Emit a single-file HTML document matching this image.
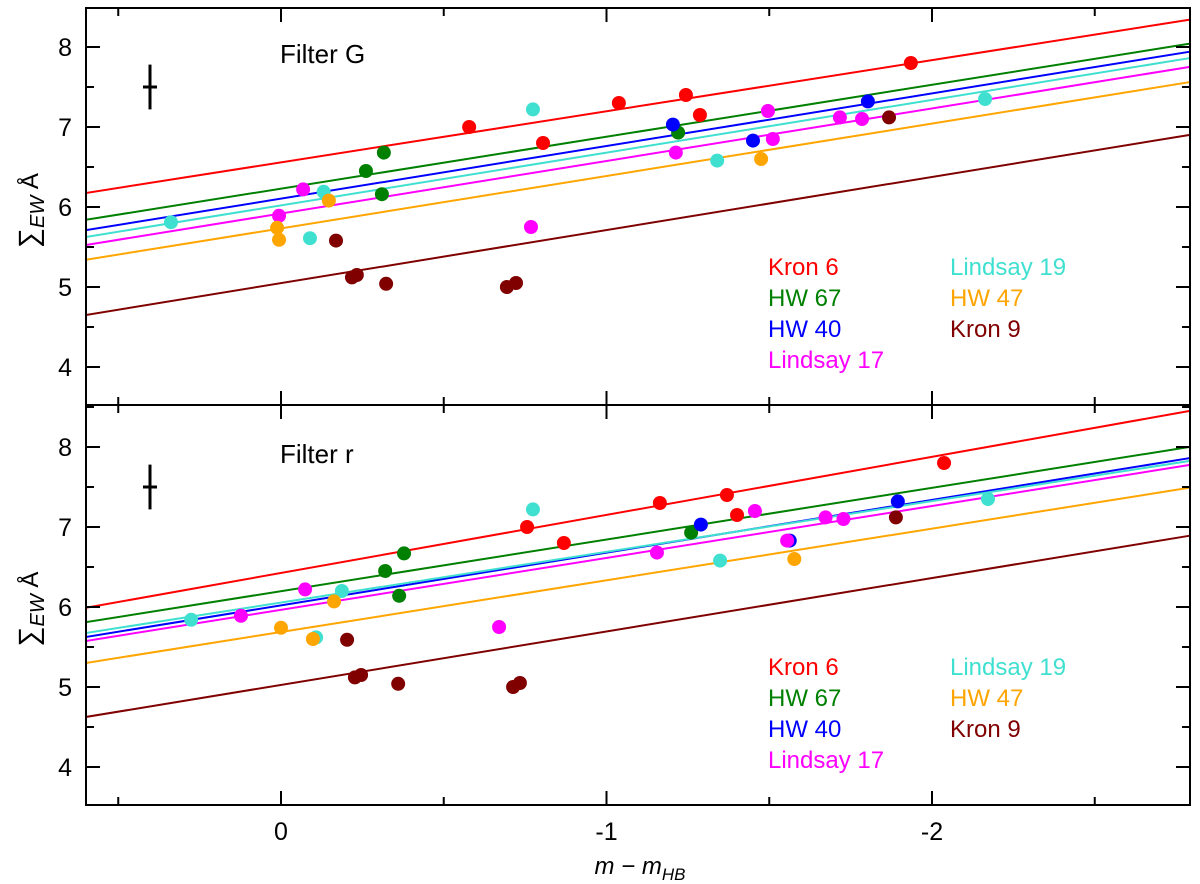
<!DOCTYPE html>
<html><head><meta charset="utf-8"><style>
body{margin:0;background:#fff;font-family:"Liberation Sans","DejaVu Sans",sans-serif}
svg{display:block}
</style></head><body>
<svg id="chart" width="1200" height="884" viewBox="0 0 1200 884" xmlns="http://www.w3.org/2000/svg"></svg>
<script>
const seriesNames=["Kron 6","HW 67","HW 40","Lindsay 17","Lindsay 19","HW 47","Kron 9"];
const seriesColors=["#ff0000","#008000","#0000ff","#ff00ff","#40e0d0","#ffa500","#800000"];
const xTicks=[0,-1,-2];
const yTicks=[4,5,6,7,8];
// top panel (Filter G) line endpoints: value at x=0.6 and x=-2.79
const gLineLeft=[6.175,5.84,5.71,5.525,5.625,5.34,4.65];
const gLineRight=[8.34,8.04,7.94,7.75,7.86,7.56,6.90];
const rLineLeft=[5.99,5.81,5.625,5.575,5.675,5.30,4.625];
const rLineRight=[8.45,8.0,7.86,7.775,7.825,7.49,6.89];
// points: x (m - mHB), y (EW)
const gX=[
 [-0.578,-1.038,-1.244,-1.287,-0.805,-1.935],
 [-0.316,-0.261,-0.31,-1.22],
 [-1.204,-1.45,-1.803],
 [-0.068,0.006,-0.768,-1.213,-1.496,-1.511,-1.717,-1.785],
 [0.338,-0.131,-0.089,-0.774,-1.34,-2.163],
 [0.012,0.006,-0.147,-1.475],
 [-0.169,-0.218,-0.233,-0.323,-0.694,-0.722,-1.868]];
const gY=[
 [7.0,7.3,7.4,7.15,6.8,7.8],
 [6.68,6.45,6.16,6.93],
 [7.03,6.83,7.32],
 [6.22,5.89,5.75,6.68,7.2,6.85,7.12,7.1],
 [5.81,6.19,5.61,7.22,6.58,7.35],
 [5.74,5.59,6.08,6.6],
 [5.58,5.12,5.15,5.04,5.0,5.05,7.12]];
const rX=[
 [-0.756,-1.164,-1.37,-1.401,-0.869,-2.037],
 [-0.32,-0.378,-0.363,-1.26],
 [-1.29,-1.563,-1.895],
 [-0.074,0.123,-0.67,-1.155,-1.456,-1.555,-1.673,-1.728],
 [0.276,-0.187,-0.108,-0.774,-1.349,-2.172],
 [0.0,-0.163,-0.098,-1.577],
 [-0.203,-0.227,-0.246,-0.36,-0.713,-0.734,-1.889]];
const rY=[
 [7.0,7.3,7.4,7.15,6.8,7.8],
 [6.45,6.67,6.14,6.93],
 [7.03,6.83,7.32],
 [6.22,5.89,5.75,6.68,7.2,6.83,7.12,7.1],
 [5.84,6.2,5.62,7.22,6.58,7.35],
 [5.74,6.07,5.6,6.6],
 [5.59,5.12,5.15,5.04,5.0,5.05,7.12]];

const NS="http://www.w3.org/2000/svg";
const svg=document.getElementById('chart');
const L=86,R=1190;
function xs(v){return 281-325.5*v;}
function mk(tag,attrs,parent){const e=document.createElementNS(NS,tag);for(const k in attrs)e.setAttribute(k,attrs[k]);(parent||svg).appendChild(e);return e;}
const XMIN=0.6,XMAX=-2.79;
const panels=[
 {top:8,bot:405,y8:47,title:"Filter G",ll:gLineLeft,lr:gLineRight,px:gX,py:gY,name:"filter-g"},
 {top:405,bot:805,y8:447,title:"Filter r",ll:rLineLeft,lr:rLineRight,px:rX,py:rY,name:"filter-r"}];
panels.forEach((p,pi)=>{
 const g=mk('g',{});
 
 
 const ys=v=>p.y8+(8-v)*80;
 const clip=mk('clipPath',{id:'c'+pi},g);mk('rect',{x:L,y:p.top,width:R-L,height:p.bot-p.top},clip);
 const plot=mk('g',{'clip-path':'url(#c'+pi+')'},g);
 // fit lines
 seriesNames.forEach((n,i)=>{
  const ln=mk('line',{x1:xs(XMIN),y1:ys(p.ll[i]),x2:xs(XMAX),y2:ys(p.lr[i]),stroke:seriesColors[i],'stroke-width':2},plot);
  
  
 });
 // points
 seriesNames.forEach((n,i)=>{
  p.px[i].forEach((xv,j)=>{
   const c=mk('circle',{cx:xs(xv),cy:ys(p.py[i][j]),r:7,fill:seriesColors[i]},plot);
   
   
  });
 });
 // error bar
 const eb=mk('g',{stroke:'#000','stroke-width':3},g);
 
 
 mk('line',{x1:150,y1:ys(7.78),x2:150,y2:ys(7.22)},eb);
 mk('line',{x1:143,y1:ys(7.5),x2:157,y2:ys(7.5)},eb);
 // frame
 const fr=mk('rect',{x:L,y:p.top,width:R-L,height:p.bot-p.top,fill:'none',stroke:'#000','stroke-width':2},g);
 
 
 // y ticks
 for(let v=3.5;v<=8.5;v+=0.5){
  const y=ys(v); if(y<p.top+2||y>p.bot-2)continue;
  const len=Number.isInteger(v)?14:8;
  mk('line',{x1:L,y1:y,x2:L+len,y2:y,stroke:'#000','stroke-width':2},g);
  mk('line',{x1:R-len,y1:y,x2:R,y2:y,stroke:'#000','stroke-width':2},g);
 }
 yTicks.forEach(v=>{
  const t=mk('text',{x:72,y:ys(v)+9,'text-anchor':'end','font-size':25,fill:'#000'},g);
  t.textContent=v;
  
  
 });
 // x ticks
 for(let v=0.5;v>=-2.5;v-=0.5){
  const x=xs(v);const len=Math.abs(v%1)<1e-9?14:8;
  mk('line',{x1:x,y1:p.bot,x2:x,y2:p.bot-len,stroke:'#000','stroke-width':2},g);
  mk('line',{x1:x,y1:p.top,x2:x,y2:p.top+len,stroke:'#000','stroke-width':2},g);
 }
 // title
 const tt=mk('text',{x:280,y:p.y8+16,'font-size':26,fill:'#000'},g);
 tt.textContent=p.title;
 
 
 // y axis label
 const yl=mk('text',{transform:`translate(38,${(p.top+p.bot)/2+4}) rotate(-90)`,'text-anchor':'middle','font-size':28,fill:'#000'},g);
 yl.innerHTML='∑<tspan font-style="italic" font-size="20" dy="6">EW</tspan><tspan font-size="24" dy="-6"> Å</tspan>';
 
 
 // legend
 const leg=mk('g',{},g);
 
 
 const ly0=p.y8+228;
 seriesNames.forEach((n,i)=>{
  const col=i<4?0:1,row=i<4?i:i-4;
  const t=mk('text',{x:col?950:768,y:ly0+row*31,'font-size':24,fill:seriesColors[i]},leg);
  t.textContent=n;
  
  
 });
});
xTicks.forEach(v=>{
 const t=mk('text',{x:xs(v),y:840,'text-anchor':'middle','font-size':25,fill:'#000'});
 t.textContent=v===0?'0':String(v);
 
 
});
const xl=mk('text',{x:640,y:874,'text-anchor':'middle','font-size':24,fill:'#000','font-style':'italic'});
xl.innerHTML='m − m<tspan font-size="17" dy="6">HB</tspan>';


</script>
</body></html>
